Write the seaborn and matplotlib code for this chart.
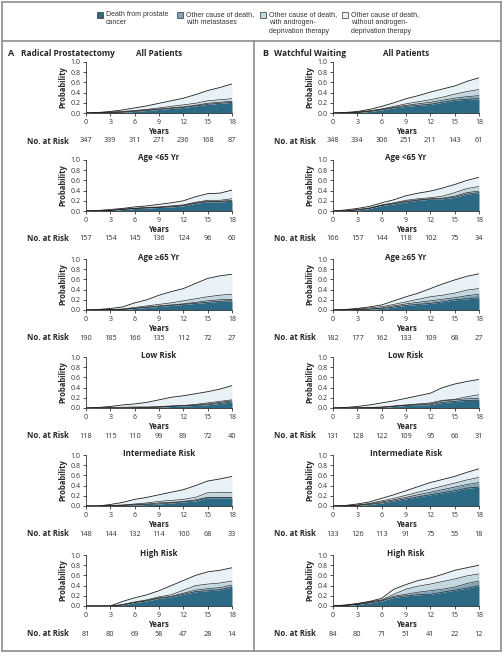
import numpy as np
import matplotlib.pyplot as plt
import seaborn as sns

# time grid (years) shared by all curves
years = [0, 1.5, 3, 4.5, 6, 7.5, 9, 10.5, 12, 13.5, 15, 16.5, 18]
tick_years = [0, 3, 6, 9, 12, 15, 18]

# cumulative boundaries: [prostate cancer, +metastases, +ADT, +without ADT (total)]
rp_all = [
    [0, 0, 0.005, 0.015, 0.03, 0.05, 0.07, 0.09, 0.11, 0.14, 0.17, 0.19, 0.21],
    [0, 0.005, 0.01, 0.02, 0.04, 0.06, 0.08, 0.10, 0.12, 0.15, 0.19, 0.21, 0.23],
    [0, 0.005, 0.02, 0.03, 0.05, 0.07, 0.10, 0.13, 0.16, 0.19, 0.24, 0.26, 0.28],
    [0, 0.01, 0.03, 0.06, 0.10, 0.14, 0.19, 0.24, 0.29, 0.36, 0.44, 0.50, 0.57],
]
rp_young = [
    [0, 0, 0.01, 0.03, 0.05, 0.06, 0.07, 0.08, 0.10, 0.15, 0.18, 0.18, 0.19],
    [0, 0, 0.01, 0.03, 0.05, 0.06, 0.07, 0.09, 0.11, 0.16, 0.19, 0.19, 0.21],
    [0, 0.005, 0.015, 0.035, 0.055, 0.07, 0.08, 0.10, 0.12, 0.17, 0.21, 0.21, 0.24],
    [0, 0.01, 0.03, 0.05, 0.08, 0.10, 0.13, 0.16, 0.20, 0.28, 0.34, 0.35, 0.41],
]
rp_old = [
    [0, 0, 0.005, 0.01, 0.03, 0.05, 0.07, 0.09, 0.11, 0.13, 0.15, 0.17, 0.18],
    [0, 0, 0.005, 0.015, 0.035, 0.06, 0.08, 0.10, 0.12, 0.15, 0.18, 0.20, 0.21],
    [0, 0.005, 0.01, 0.02, 0.05, 0.08, 0.11, 0.14, 0.18, 0.22, 0.26, 0.29, 0.31],
    [0, 0.01, 0.03, 0.06, 0.14, 0.20, 0.29, 0.36, 0.42, 0.52, 0.62, 0.67, 0.70],
]
rp_low = [
    [0, 0, 0, 0, 0.005, 0.01, 0.015, 0.03, 0.04, 0.05, 0.065, 0.09, 0.12],
    [0, 0, 0, 0, 0.005, 0.01, 0.02, 0.035, 0.045, 0.06, 0.08, 0.11, 0.14],
    [0, 0, 0.01, 0.015, 0.02, 0.02, 0.03, 0.04, 0.05, 0.07, 0.10, 0.13, 0.16],
    [0, 0.01, 0.03, 0.06, 0.08, 0.11, 0.16, 0.21, 0.24, 0.28, 0.32, 0.37, 0.44],
]
rp_mid = [
    [0, 0, 0, 0.01, 0.02, 0.03, 0.04, 0.06, 0.08, 0.10, 0.16, 0.16, 0.16],
    [0, 0, 0.005, 0.015, 0.03, 0.04, 0.06, 0.07, 0.09, 0.12, 0.17, 0.17, 0.17],
    [0, 0, 0.01, 0.02, 0.04, 0.06, 0.09, 0.11, 0.13, 0.17, 0.26, 0.26, 0.27],
    [0, 0, 0.03, 0.07, 0.13, 0.17, 0.22, 0.27, 0.32, 0.40, 0.49, 0.53, 0.58],
]
rp_high = [
    [0, 0, 0, 0.02, 0.07, 0.10, 0.15, 0.18, 0.23, 0.28, 0.30, 0.32, 0.37],
    [0, 0, 0, 0.02, 0.07, 0.11, 0.16, 0.19, 0.25, 0.31, 0.34, 0.36, 0.41],
    [0, 0, 0, 0.03, 0.08, 0.12, 0.18, 0.22, 0.31, 0.40, 0.43, 0.45, 0.49],
    [0, 0, 0, 0.09, 0.16, 0.22, 0.30, 0.40, 0.50, 0.60, 0.67, 0.70, 0.75],
]
ww_all = [
    [0, 0, 0.01, 0.03, 0.06, 0.10, 0.13, 0.15, 0.17, 0.21, 0.25, 0.27, 0.28],
    [0, 0, 0.01, 0.035, 0.07, 0.11, 0.15, 0.18, 0.21, 0.25, 0.29, 0.32, 0.34],
    [0, 0.005, 0.02, 0.045, 0.08, 0.13, 0.18, 0.22, 0.26, 0.31, 0.37, 0.42, 0.46],
    [0, 0.01, 0.03, 0.07, 0.13, 0.20, 0.28, 0.34, 0.41, 0.47, 0.53, 0.62, 0.69],
]
ww_young = [
    [0, 0, 0.02, 0.05, 0.11, 0.14, 0.18, 0.21, 0.23, 0.24, 0.27, 0.33, 0.36],
    [0, 0, 0.02, 0.05, 0.11, 0.15, 0.19, 0.22, 0.24, 0.25, 0.29, 0.36, 0.39],
    [0, 0.005, 0.03, 0.06, 0.12, 0.16, 0.21, 0.24, 0.26, 0.29, 0.36, 0.44, 0.48],
    [0, 0.02, 0.05, 0.09, 0.16, 0.22, 0.30, 0.35, 0.39, 0.45, 0.52, 0.60, 0.66],
]
ww_old = [
    [0, 0, 0.005, 0.015, 0.03, 0.06, 0.09, 0.11, 0.13, 0.16, 0.20, 0.22, 0.24],
    [0, 0, 0.01, 0.02, 0.04, 0.08, 0.12, 0.15, 0.18, 0.21, 0.24, 0.28, 0.31],
    [0, 0.005, 0.02, 0.04, 0.065, 0.11, 0.16, 0.21, 0.26, 0.29, 0.33, 0.39, 0.42],
    [0, 0.01, 0.03, 0.06, 0.10, 0.18, 0.26, 0.33, 0.42, 0.51, 0.59, 0.66, 0.71],
]
ww_low = [
    [0, 0, 0, 0.005, 0.01, 0.03, 0.05, 0.06, 0.065, 0.11, 0.13, 0.15, 0.15],
    [0, 0, 0, 0.005, 0.015, 0.035, 0.055, 0.07, 0.08, 0.14, 0.16, 0.18, 0.19],
    [0, 0, 0.005, 0.01, 0.02, 0.04, 0.06, 0.08, 0.10, 0.15, 0.17, 0.22, 0.26],
    [0, 0.01, 0.03, 0.06, 0.10, 0.14, 0.19, 0.24, 0.29, 0.40, 0.47, 0.52, 0.56],
]
ww_mid = [
    [0, 0, 0.01, 0.03, 0.06, 0.10, 0.14, 0.18, 0.22, 0.26, 0.30, 0.35, 0.37],
    [0, 0, 0.015, 0.04, 0.08, 0.12, 0.17, 0.22, 0.27, 0.32, 0.37, 0.42, 0.46],
    [0, 0.005, 0.02, 0.05, 0.10, 0.15, 0.21, 0.27, 0.33, 0.39, 0.45, 0.51, 0.56],
    [0, 0.01, 0.04, 0.08, 0.15, 0.22, 0.30, 0.38, 0.46, 0.52, 0.58, 0.66, 0.73],
]
ww_high = [
    [0, 0.01, 0.03, 0.06, 0.10, 0.17, 0.20, 0.22, 0.23, 0.27, 0.31, 0.35, 0.40],
    [0, 0.01, 0.03, 0.07, 0.11, 0.19, 0.23, 0.27, 0.30, 0.33, 0.37, 0.44, 0.49],
    [0, 0.015, 0.04, 0.08, 0.12, 0.23, 0.33, 0.39, 0.43, 0.48, 0.53, 0.59, 0.63],
    [0, 0.02, 0.05, 0.09, 0.15, 0.33, 0.42, 0.50, 0.55, 0.62, 0.70, 0.75, 0.80],
]

# numbers at risk at 0, 3, ..., 18 years
rp_risk = [
    [347, 339, 311, 271, 236, 168, 87],
    [157, 154, 145, 136, 124, 96, 60],
    [190, 185, 166, 135, 112, 72, 27],
    [118, 115, 110, 99, 89, 72, 40],
    [148, 144, 132, 114, 100, 68, 33],
    [81, 80, 69, 58, 47, 28, 14],
]
ww_risk = [
    [348, 334, 306, 251, 211, 143, 61],
    [166, 157, 144, 118, 102, 75, 34],
    [182, 177, 162, 133, 109, 68, 27],
    [131, 128, 122, 109, 95, 66, 31],
    [133, 126, 113, 91, 75, 55, 18],
    [84, 80, 71, 51, 41, 22, 12],
]

subgroups = ["All Patients", "Age <65 Yr", "Age \u226565 Yr", "Low Risk",
             "Intermediate Risk", "High Risk"]
legend_labels = ["Death from prostate\ncancer",
                 "Other cause of death,\nwith metastases",
                 "Other cause of death,\nwith androgen-\ndeprivation therapy",
                 "Other cause of death,\nwithout androgen-\ndeprivation therapy"]
colors = ["#2b6985", "#7fa4b8", "#c3d7e1", "#e8f1f5"]

sns.set_style("ticks")
plt.rcParams["font.family"] = ["Open Sans", "DejaVu Sans"]
legend_font = ["Liberation Sans", "DejaVu Sans"]

W, H = 504, 656
fig = plt.figure(figsize=(W / 100, H / 100), dpi=100)


def fx(x):
    return x / W


def fy(y):
    return 1 - y / H


# frame lines
frame = "#8c8c8c"
for xs, ys in [([2, 501], [2, 2]), ([2, 501], [651, 651]), ([2, 2], [2, 651]),
               ([501, 501], [2, 651]), ([2, 501], [41, 41]), ([254, 254], [41, 651])]:
    fig.add_artist(plt.Line2D([fx(v) for v in xs], [fy(v) for v in ys],
                              color=frame, lw=1.2))

# legend
leg_x = [97, 177, 260, 342]
for lx, lab, col in zip(leg_x, legend_labels, colors):
    fig.add_artist(plt.Rectangle((fx(lx), fy(18)), 6 / W, 6 / H, facecolor=col,
                                 edgecolor="#333333", lw=0.5))
    fig.text(fx(lx + 9), fy(11), lab, fontsize=5.0, va="top", ha="left",
             color="#333333", linespacing=1.3, family=legend_font)

# panel headers
fig.text(fx(8), fy(53), "A", fontsize=6.5, fontweight="bold", va="center")
fig.text(fx(21), fy(53), "Radical Prostatectomy", fontsize=6, fontweight="bold", va="center")
fig.text(fx(262), fy(53), "B", fontsize=6.5, fontweight="bold", va="center")
fig.text(fx(274), fy(53), "Watchful Waiting", fontsize=6, fontweight="bold", va="center")

tops = [62, 160, 259, 357, 455, 555]
ax_h = 51
columns = [
    (86, [rp_all, rp_young, rp_old, rp_low, rp_mid, rp_high], rp_risk, 27),
    (333, [ww_all, ww_young, ww_old, ww_low, ww_mid, ww_high], ww_risk, 274),
]

for left, panels, risks, risk_x in columns:
    for i, (top, curves, risk, title) in enumerate(zip(tops, panels, risks, subgroups)):
        ax = fig.add_axes([fx(left), fy(top + ax_h), 146 / W, ax_h / H])
        lower = np.zeros(len(years))
        for col, upper in zip(colors, curves):
            ax.fill_between(years, lower, upper, color=col, lw=0)
            lower = np.array(upper)
        for j, upper in enumerate(curves):
            sns.lineplot(x=years, y=upper, ax=ax, color="#1f1f1f",
                         lw=0.6 if j == 3 else 0.45)
        ax.vlines(18, 0, curves[-1][-1], color="#1f1f1f", lw=0.6)
        ax.set_xlim(0, 18)
        ax.set_ylim(0, 1)
        ax.set_xticks(tick_years)
        ax.set_yticks([0, 0.2, 0.4, 0.6, 0.8, 1.0])
        ax.set_yticklabels(["0.0", "0.2", "0.4", "0.6", "0.8", "1.0"])
        ax.tick_params(labelsize=5, length=2.5, width=0.6, pad=1.5, colors="#333333")
        for s in ["left", "bottom"]:
            ax.spines[s].set_linewidth(0.6)
            ax.spines[s].set_color("#333333")
        sns.despine(ax=ax)
        ax.set_xlabel("Years", fontsize=5.5, fontweight="bold", labelpad=1)
        ax.set_ylabel("Probability", fontsize=5.5, fontweight="bold", labelpad=2)
        title_y = 53 if i == 0 else top - 2
        fig.text(fx(left + 73), fy(title_y), title, fontsize=5.8, fontweight="bold",
                 ha="center", va="center")
        for t, n in zip(tick_years, risk):
            ax.text(t, -28 / ax_h, str(n), transform=ax.get_xaxis_transform(),
                    fontsize=5.3, ha="center", va="center", color="#333333")
        fig.text(fx(risk_x), fy(top + ax_h + 28), "No. at Risk", fontsize=5.6,
                 fontweight="bold", va="center", ha="left")

fig.savefig("out.png", dpi=100)
plt.close(fig)
